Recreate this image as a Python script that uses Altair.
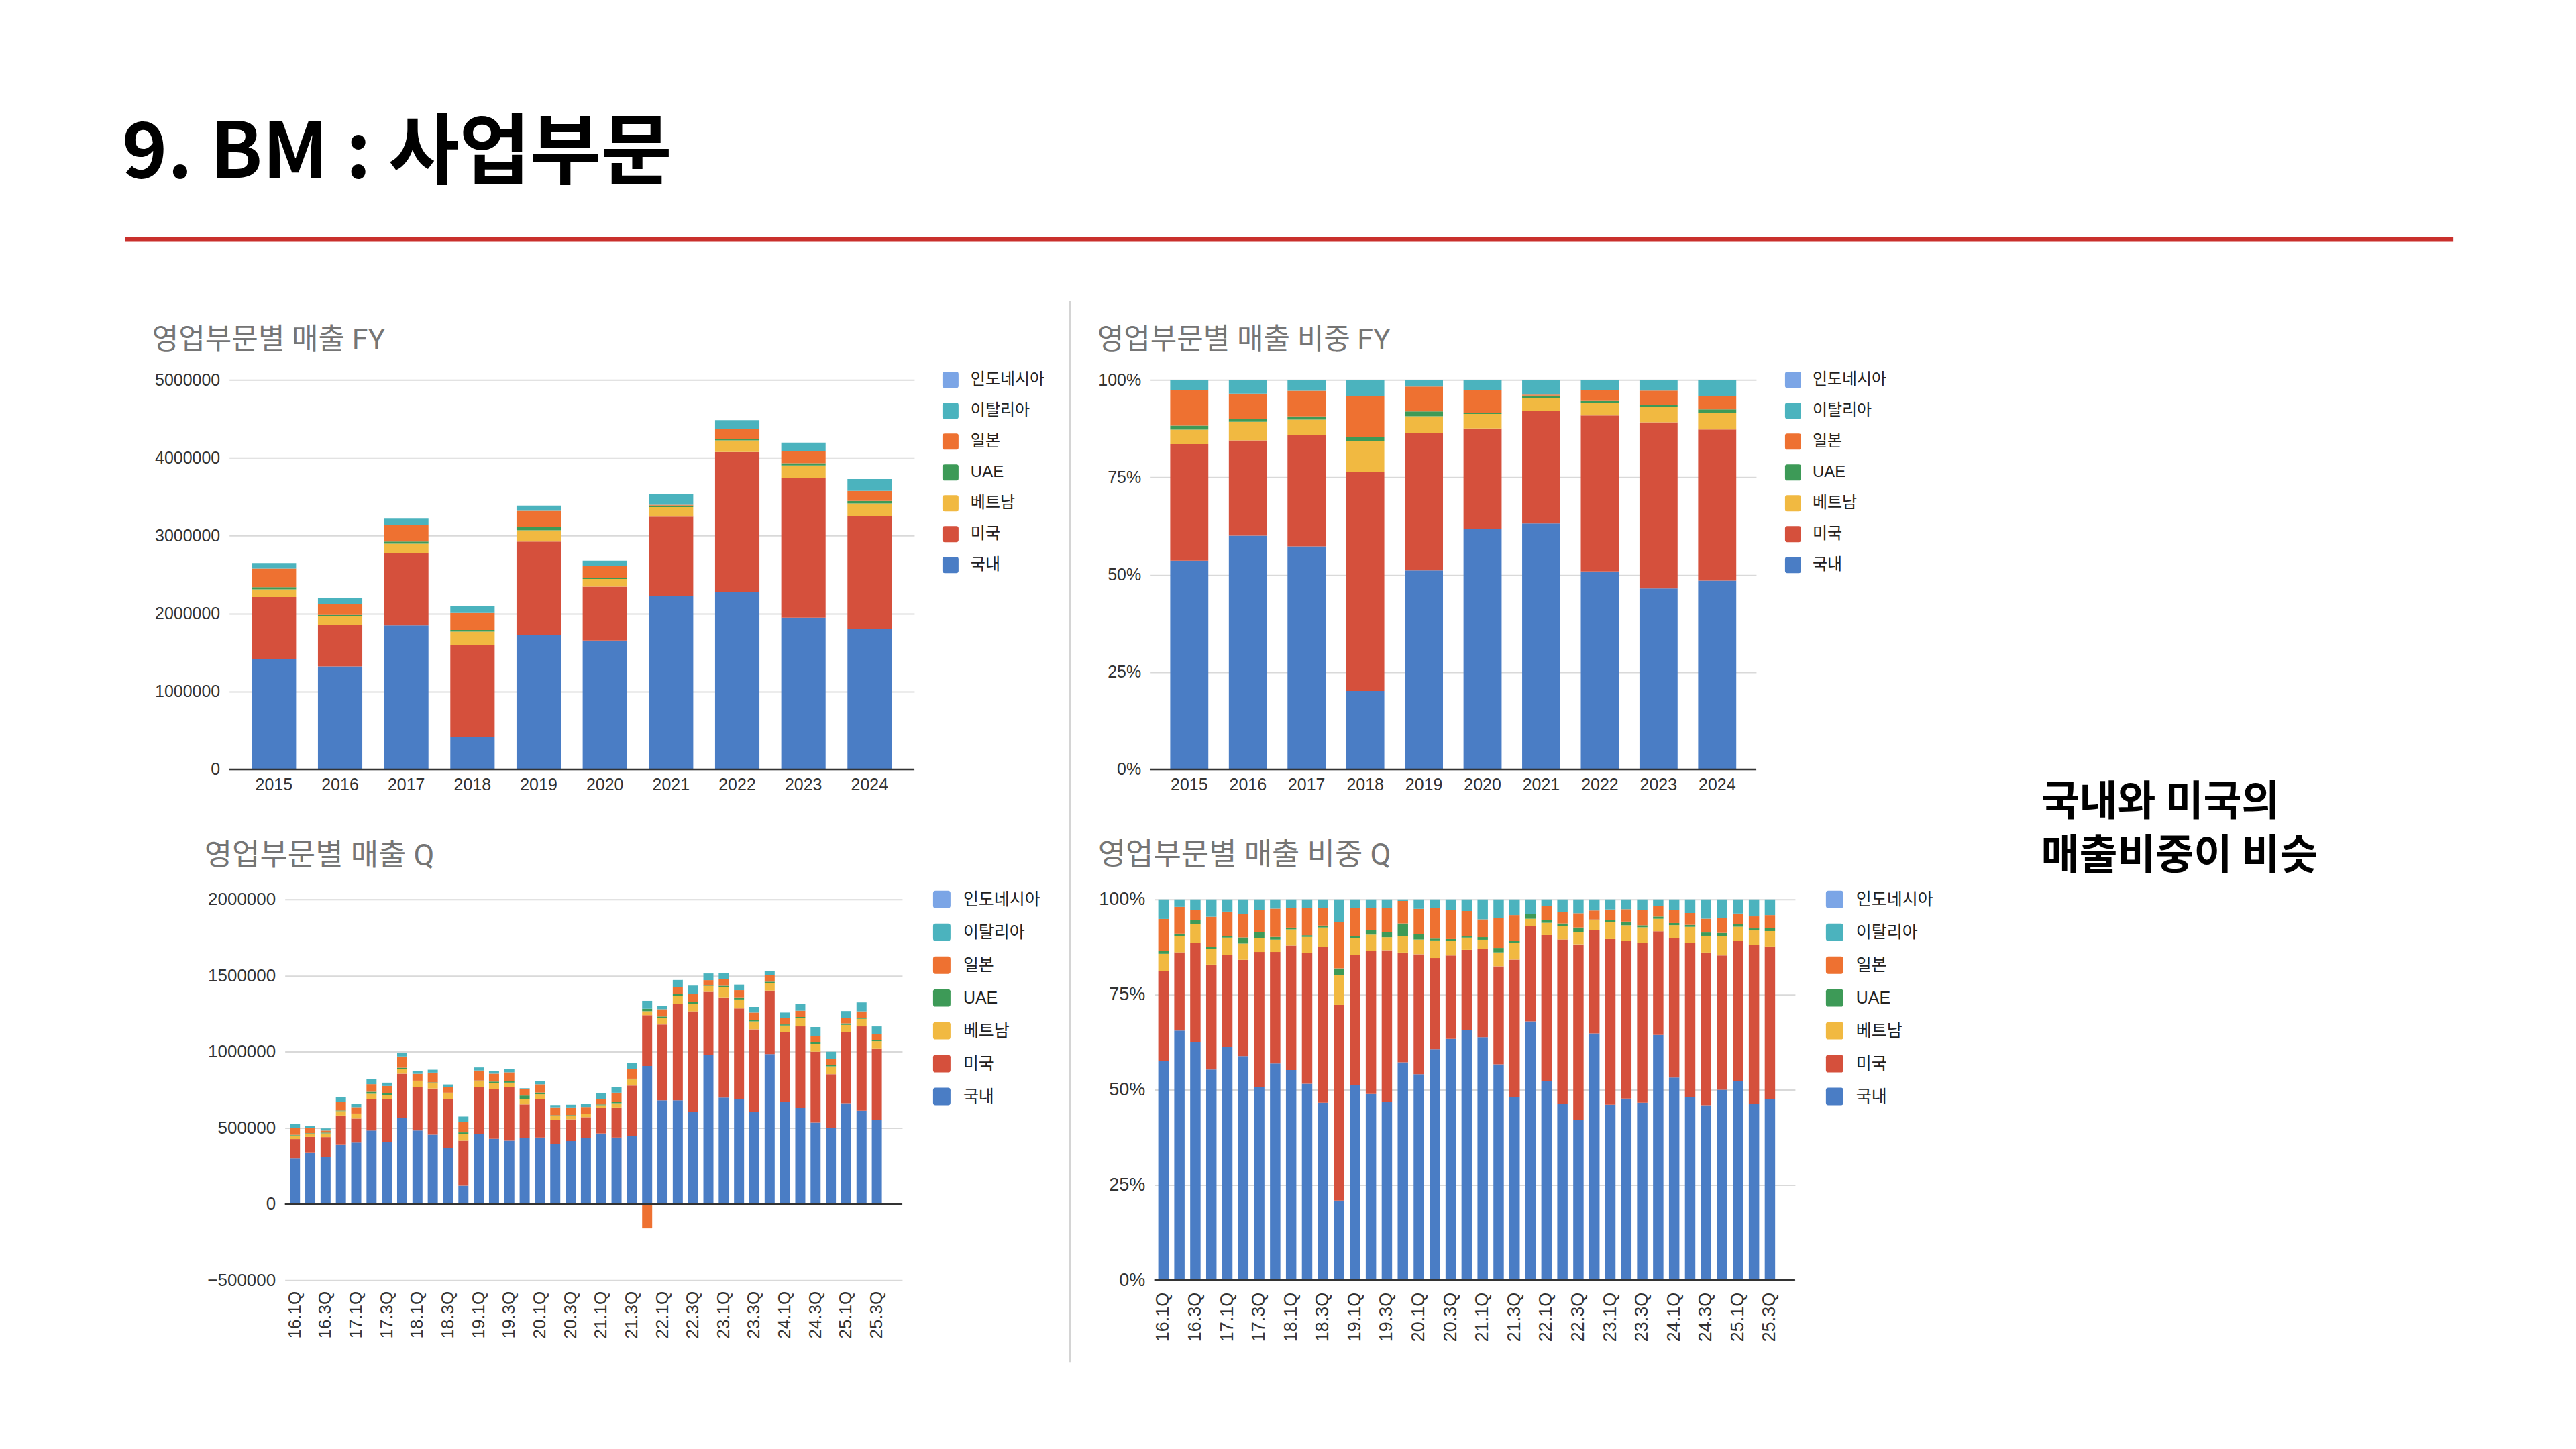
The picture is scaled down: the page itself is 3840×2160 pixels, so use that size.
import altair as alt
import pandas as pd

# ------------------------------------------------------------------ data
years = ["2015", "2016", "2017", "2018", "2019", "2020", "2021", "2022", "2023", "2024"]
fy_domestic = [1420000, 1321000, 1848000, 422000, 1730000, 1655000, 2230000, 2280000, 1948000, 1808000]
fy_usa = [793000, 538000, 924000, 1180000, 1195000, 690000, 1022000, 1796000, 1790000, 1447000]
fy_vietnam = [98000, 105000, 126000, 167000, 145000, 100000, 115000, 148000, 165000, 160000]
fy_uae = [28000, 18000, 27000, 21000, 42000, 10000, 20000, 18000, 28000, 32000]
fy_japan = [240000, 142000, 212000, 218000, 215000, 155000, 10000, 130000, 150000, 128000]
fy_italy = [71000, 77000, 90000, 89000, 58000, 69000, 133000, 113000, 114000, 154000]
fy_indonesia = [0, 0, 0, 0, 0, 0, 0, 0, 0, 0]

quarters = ["16.1Q", "16.2Q", "16.3Q", "16.4Q", "17.1Q", "17.2Q", "17.3Q", "17.4Q",
            "18.1Q", "18.2Q", "18.3Q", "18.4Q", "19.1Q", "19.2Q", "19.3Q", "19.4Q",
            "20.1Q", "20.2Q", "20.3Q", "20.4Q", "21.1Q", "21.2Q", "21.3Q", "21.4Q",
            "22.1Q", "22.2Q", "22.3Q", "22.4Q", "23.1Q", "23.2Q", "23.3Q", "23.4Q",
            "24.1Q", "24.2Q", "24.3Q", "24.4Q", "25.1Q", "25.2Q", "25.3Q"]
quarter_slots = quarters + ["25.4Q"]          # empty slot kept by the source sheet
quarter_ticks = ["16.1Q", "16.3Q", "17.1Q", "17.3Q", "18.1Q", "18.3Q", "19.1Q", "19.3Q",
                 "20.1Q", "20.3Q", "21.1Q", "21.3Q", "22.1Q", "22.3Q", "23.1Q", "23.3Q",
                 "24.1Q", "24.3Q", "25.1Q", "25.3Q"]

q_domestic = [302000, 335000, 310000, 388000, 403000, 482000, 404000, 565000,
              483000, 455000, 366000, 120000, 460000, 428000, 415000, 435000,
              436000, 394000, 413000, 432000, 463000, 436000, 445000, 907000,
              681000, 681000, 603000, 981000, 698000, 687000, 603000, 985000,
              669000, 632000, 534000, 500000, 662000, 613000, 554000]
q_usa = [124000, 105000, 129000, 193000, 158000, 207000, 283000, 291000,
         286000, 303000, 321000, 295000, 306000, 328000, 352000, 219000,
         254000, 156000, 143000, 138000, 168000, 198000, 333000, 333000,
         498000, 635000, 662000, 412000, 659000, 597000, 544000, 416000,
         459000, 534000, 466000, 353000, 466000, 553000, 468000]
q_vietnam = [24000, 22000, 25000, 29000, 30000, 35000, 29000, 32000,
             37000, 37000, 40000, 45000, 40000, 38000, 30000, 33000,
             31000, 30000, 25000, 21000, 18000, 28000, 40000, 26000,
             42000, 52000, 47000, 38000, 69000, 59000, 52000, 50000,
             44000, 55000, 51000, 51000, 48000, 50000, 47000]
q_uae = [4000, 3000, 5000, 4000, 3000, 13000, 12000, 7000,
         4000, 4000, 4000, 10000, 5000, 10000, 12000, 25000,
         11000, 3000, 3000, 2000, 5000, 9000, 5000, 16000,
         10000, 10000, 16000, 3000, 7000, 14000, 7000, 9000,
         7000, 7000, 10000, 8000, 10000, 7000, 9000]
q_japan = [44000, 36000, 13000, 55000, 42000, 50000, 47000, 74000,
           45000, 64000, 36000, 70000, 66000, 52000, 56000, 45000,
           54000, 52000, 50000, 44000, 34000, 60000, 63000, -160000,
           48000, 44000, 54000, 36000, 42000, 47000, 51000, 44000,
           42000, 41000, 42000, 39000, 34000, 42000, 40000]
q_italy = [27000, 10000, 14000, 32000, 21000, 32000, 22000, 24000,
           20000, 19000, 18000, 34000, 20000, 19000, 20000, 3000,
           20000, 15000, 18000, 20000, 38000, 38000, 38000, 52000,
           22000, 49000, 52000, 44000, 40000, 37000, 37000, 25000,
           36000, 47000, 59000, 49000, 47000, 59000, 48000]
q_indonesia = [0, 0, 0, 0, 0, 0, 0, 0, 0, 0, 0, 0, 0, 0, 0, 0, 0, 0, 0, 0,
               0, 0, 0, 0, 0, 0, 0, 0, 0, 0, 0, 0, 0, 0, 0, 0, 0, 0, 0]

stack_order = ["국내", "미국", "베트남", "UAE", "일본", "이탈리아", "인도네시아"]
legend_order = ["인도네시아", "이탈리아", "일본", "UAE", "베트남", "미국", "국내"]
legend_colors = ["#7ba5e6", "#4bb3be", "#ee7131", "#3d9a57", "#f1b941", "#d5503c", "#4a7dc5"]

slide_title = "9. BM : 사업부문"
note_text = "국내와 미국의\n매출비중이 비슷"

# ------------------------------------------------------------------ style
CJK = "Noto Sans CJK KR"
LAB = "Liberation Sans, Noto Sans CJK KR"
TIT = "Roboto, Noto Sans CJK KR"
LAB_COLOR = "#333333"
GRID = "#d9d9d9"
ROUND_SQ = ("M-1,-0.72 Q-1,-1 -0.72,-1 L0.72,-1 Q1,-1 1,-0.72 L1,0.72 Q1,1 0.72,1 "
            "L-0.72,1 Q-1,1 -1,0.72 Z")
ONE = pd.DataFrame({"k": [0]})


def long_df(periods, series):
    rows = []
    for name, vals in series.items():
        for p, v in zip(periods, vals):
            rows.append({"period": p, "region": name, "value": v,
                         "ord": stack_order.index(name)})
    return pd.DataFrame(rows)


fy_df = long_df(years, {"국내": fy_domestic, "미국": fy_usa, "베트남": fy_vietnam,
                        "UAE": fy_uae, "일본": fy_japan, "이탈리아": fy_italy,
                        "인도네시아": fy_indonesia})
q_df = long_df(quarters, {"국내": q_domestic, "미국": q_usa, "베트남": q_vietnam,
                          "UAE": q_uae, "일본": q_japan, "이탈리아": q_italy,
                          "인도네시아": q_indonesia})


def stacked(df, domain, *, width, height, normalize, y_domain, y_ticks, y_format,
            pin, pout, x_values, x_angle, x_pad, lab_size, title, t_size, t_dx, t_off, t_dy,
            leg_x, leg_y, sym, row_pad, leg_size, leg_off, extra=None):
    base = alt.Chart(df)
    if normalize:
        base = base.transform_calculate(shown="max(datum.value, 0)")
        yfield, stack = "shown:Q", "normalize"
    else:
        yfield, stack = "value:Q", "zero"
    bars = base.mark_bar().encode(
        x=alt.X("period:N", scale=alt.Scale(domain=domain, paddingInner=pin, paddingOuter=pout),
                axis=alt.Axis(title=None, values=x_values, labelAngle=x_angle, domain=False,
                              ticks=False, grid=False, labelFontSize=lab_size, labelFont=LAB,
                              labelColor=LAB_COLOR, labelPadding=x_pad)),
        y=alt.Y(yfield, stack=stack,
                scale=alt.Scale(domain=y_domain, nice=False),
                axis=alt.Axis(title=None, values=y_ticks, format=y_format, domain=False,
                              ticks=False, gridColor=GRID, gridWidth=2, labelFontSize=lab_size,
                              labelFont=LAB, labelColor=LAB_COLOR, labelPadding=14)),
        color=alt.Color("region:N", scale=alt.Scale(domain=legend_order, range=legend_colors),
                        legend=alt.Legend(title=None, orient="none", legendX=leg_x, legendY=leg_y,
                                          direction="vertical", symbolType=ROUND_SQ,
                                          symbolSize=sym * sym, symbolStrokeWidth=0,
                                          labelFontSize=leg_size, labelFont=LAB,
                                          labelColor="#222222", labelOffset=leg_off,
                                          rowPadding=row_pad, padding=0)),
        order=alt.Order("ord:Q", sort="ascending"),
    )
    zero = alt.Chart(ONE).mark_rule(color="#333333", strokeWidth=2.5).encode(y=alt.datum(0))
    layers = [bars, zero] + (extra or [])
    return alt.layer(*layers).properties(
        width=width, height=height,
        title=alt.TitleParams(text=title, anchor="start", frame="group", dx=t_dx, dy=t_dy,
                              offset=t_off, baseline="alphabetic", fontSize=t_size,
                              color="#757575", font=TIT, fontWeight="normal"))


def spacer(w, h):
    return alt.Chart(ONE).mark_point(opacity=0).encode(
        x=alt.value(0), y=alt.value(0)).properties(width=w, height=h)


def divider(w, h, x, y1, y2):
    return alt.Chart(ONE).mark_rule(color="#d4d4d4", strokeWidth=3).encode(
        x=alt.value(x), y=alt.value(y1), y2=alt.value(y2)).properties(width=w, height=h)


note = alt.Chart(ONE).transform_calculate(t="'" + note_text.replace("\n", "\\n") + "'").mark_text(
    align="left", baseline="alphabetic", font=CJK, fontSize=62, fontWeight="bold",
    color="#000000", lineBreak="\n", lineHeight=80
).encode(text="t:N", x=alt.value(1329), y=alt.value(650))

tl = stacked(fy_df, years, width=1022, height=581, normalize=False,
             y_domain=[0, 5000000], y_ticks=[0, 1000000, 2000000, 3000000, 4000000, 5000000],
             y_format="d", pin=0.33, pout=0.34, x_values=years, x_angle=0, x_pad=11,
             lab_size=25, title="영업부문별 매출 FY", t_size=43, t_dx=-115, t_off=34, t_dy=43,
             leg_x=1064, leg_y=-12, sym=24, row_pad=22, leg_size=24, leg_off=18)
tr = stacked(fy_df, years, width=904, height=581, normalize=True,
             y_domain=[0, 1], y_ticks=[0, 0.25, 0.5, 0.75, 1], y_format=".0%",
             pin=0.35, pout=0.34, x_values=years, x_angle=0, x_pad=11,
             lab_size=25, title="영업부문별 매출 비중 FY", t_size=43, t_dx=-79, t_off=34, t_dy=43,
             leg_x=947, leg_y=-12, sym=24, row_pad=22, leg_size=24, leg_off=17, extra=[note])
bl = stacked(q_df, quarter_slots, width=921, height=568, normalize=False,
             y_domain=[-500000, 2000000],
             y_ticks=[-500000, 0, 500000, 1000000, 1500000, 2000000],
             y_format="d", pin=0.343, pout=0.33, x_values=quarter_ticks, x_angle=-90, x_pad=16,
             lab_size=26, title="영업부문별 매출 Q", t_size=45, t_dx=-120, t_off=38, t_dy=45,
             leg_x=967, leg_y=-13, sym=26, row_pad=23, leg_size=25, leg_off=19)
br = stacked(q_df, quarter_slots, width=956, height=568, normalize=True,
             y_domain=[0, 1], y_ticks=[0, 0.25, 0.5, 0.75, 1], y_format=".0%",
             pin=0.349, pout=0.25, x_values=quarter_ticks, x_angle=-90, x_pad=18,
             lab_size=27, title="영업부문별 매출 비중 Q", t_size=45, t_dx=-84, t_off=38, t_dy=45,
             leg_x=1002, leg_y=-13, sym=26, row_pad=23, leg_size=25, leg_off=19)

header = alt.layer(
    alt.Chart(ONE).transform_calculate(t="'" + slide_title + "'").mark_text(
        align="left", baseline="alphabetic", font=CJK, fontSize=115, fontWeight="bold",
        color="#000000").encode(text="t:N", x=alt.value(179), y=alt.value(264)),
    alt.Chart(ONE).mark_rule(color="#c9302c", strokeWidth=7).encode(
        x=alt.value(184), x2=alt.value(3657), y=alt.value(356.5)),
).properties(width=3840, height=566)

row_top = alt.hconcat(
    spacer(339, 581), tl, divider(352, 581, 232, -118, 773), tr, spacing=0, bounds="flush"
).resolve_scale(color="independent").resolve_legend(color="independent")

row_bottom = alt.hconcat(
    spacer(422, 568), bl, divider(376, 568, 250, -142, 691), br, spacing=0, bounds="flush"
).resolve_scale(color="independent").resolve_legend(color="independent")

# rows are stacked directly on the previous row's extent (negative spacing is floored by Vega)
chart = alt.vconcat(header, row_top, row_bottom, spacing=-160).resolve_scale(
    color="independent").resolve_legend(color="independent").configure_view(
    stroke=None).properties(padding=0, background="white")

chart.save("out.html", embed_options={"renderer": "svg", "actions": False})
